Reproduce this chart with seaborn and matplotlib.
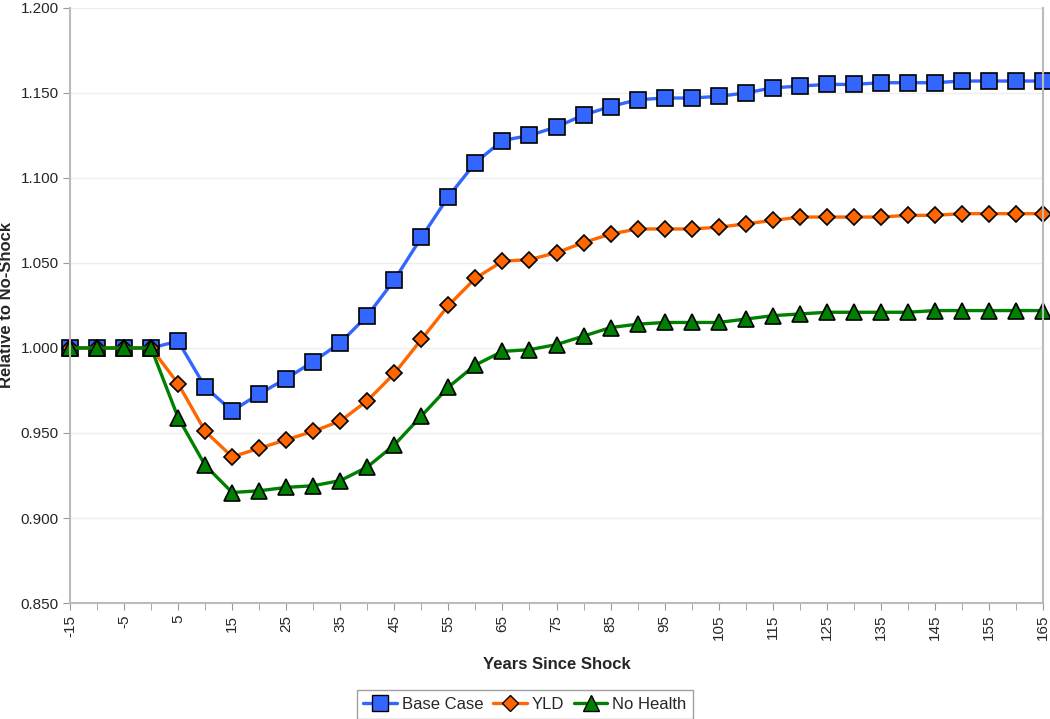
import numpy as np
import pandas as pd
import seaborn as sns
import matplotlib.pyplot as plt
from matplotlib.ticker import MultipleLocator, FormatStrFormatter

years = list(range(-15, 170, 5))

base_case = [1.000, 1.000, 1.000, 1.000, 1.004, 0.977, 0.963, 0.973, 0.982, 0.992,
             1.003, 1.019, 1.040, 1.065, 1.089, 1.109, 1.122, 1.125, 1.130, 1.137,
             1.142, 1.146, 1.147, 1.147, 1.148, 1.150, 1.153, 1.154, 1.155, 1.155,
             1.156, 1.156, 1.156, 1.157, 1.157, 1.157, 1.157]
yld = [1.000, 1.000, 1.000, 1.000, 0.979, 0.951, 0.936, 0.941, 0.946, 0.951,
       0.957, 0.969, 0.985, 1.005, 1.025, 1.041, 1.051, 1.052, 1.056, 1.062,
       1.067, 1.070, 1.070, 1.070, 1.071, 1.073, 1.075, 1.077, 1.077, 1.077,
       1.077, 1.078, 1.078, 1.079, 1.079, 1.079, 1.079]
no_health = [1.000, 1.000, 1.000, 1.000, 0.959, 0.931, 0.915, 0.916, 0.918, 0.919,
             0.922, 0.930, 0.943, 0.960, 0.977, 0.990, 0.998, 0.999, 1.002, 1.007,
             1.012, 1.014, 1.015, 1.015, 1.015, 1.017, 1.019, 1.020, 1.021, 1.021,
             1.021, 1.021, 1.022, 1.022, 1.022, 1.022, 1.022]

series_names = ['Base Case', 'YLD', 'No Health']
colors = ['#3366FF', '#FF6600', '#008000']

df = pd.DataFrame({
    'Years Since Shock': years * 3,
    'value': base_case + yld + no_health,
    'series': [s for s in series_names for _ in years],
})

sns.set_style('white')
plt.rcParams['font.family'] = ['Liberation Sans', 'DejaVu Sans']
plt.rcParams['axes.unicode_minus'] = False

fig = plt.figure(figsize=(10.5, 7.19), dpi=100)
ax = fig.add_axes([0.0667, 0.1613, 0.9266, 0.8277])

sns.lineplot(data=df, x='Years Since Shock', y='value', hue='series', style='series',
             palette=colors, markers=['s', 'D', '^'], dashes=False, linewidth=2.4,
             markeredgecolor='black', markeredgewidth=1.2, ax=ax, legend=False)

msizes = [11, 8, 11]
for line, ms in zip(ax.lines, msizes):
    line.set_markersize(ms)
    line.set_clip_on(False)

ax.set_xlim(-15, 165)
ax.set_ylim(0.85, 1.2)
ax.yaxis.set_major_locator(MultipleLocator(0.05))
ax.yaxis.set_major_formatter(FormatStrFormatter('%.3f'))
ax.set_xticks(list(range(-15, 170, 10)))
ax.xaxis.set_minor_locator(MultipleLocator(5))
ax.tick_params(axis='x', which='both', direction='out', length=5, color='#999999',
               bottom=True, labelrotation=90, labelsize=11)
ax.tick_params(axis='y', direction='out', length=5, color='#999999', left=True,
               labelsize=11, pad=3)
ax.grid(axis='y', color='#EEEEEE', linewidth=1)
ax.spines['top'].set_visible(False)
for s in ['left', 'bottom', 'right']:
    ax.spines[s].set_color('#BBBBBB')
    ax.spines[s].set_linewidth(1.5)

ax.set_xlabel('Years Since Shock', fontsize=12, fontweight='bold', labelpad=12)
ax.set_ylabel('Relative to No-Shock', fontsize=12, fontweight='bold')
ax.yaxis.set_label_coords(-0.058, 0.5)

handles = [plt.Line2D([], [], color=c, marker=m, markersize=ms, markeredgecolor='black',
                      linewidth=2.4) for c, m, ms in zip(colors, ['s', 'D', '^'], msizes)]
leg = fig.legend(handles, series_names, loc='center', bbox_to_anchor=(0.5, 0.02), ncol=3,
                 frameon=True, fancybox=False, fontsize=12, handlelength=2,
                 columnspacing=0.6, handletextpad=0.3, borderpad=0.4)
leg.get_frame().set_edgecolor('#888888')

fig.savefig('out.png', dpi=100)
